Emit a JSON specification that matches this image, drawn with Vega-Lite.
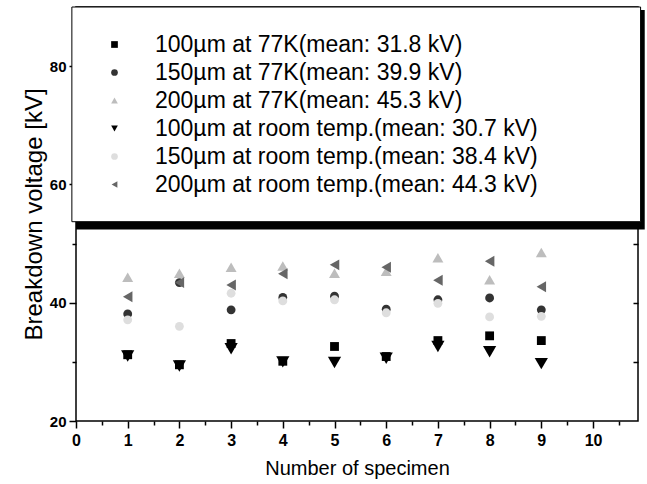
{
  "$schema": "https://vega.github.io/schema/vega-lite/v6.json",
  "width": 562,
  "height": 414,
  "autosize": {"type": "none"},
  "padding": {"left": 76, "top": 7, "right": 9, "bottom": 63},
  "background": "white",
  "config": {
    "font": "Liberation Sans",
    "view": {"stroke": "black", "strokeWidth": 1.5},
    "axis": {"grid": false, "domain": false, "tickColor": "black", "tickWidth": 1.5, "labelColor": "black", "titleColor": "black", "labelFont": "Liberation Sans", "titleFont": "Liberation Sans", "titleFontWeight": "normal"},
    "legend": {"orient": "none", "legendX": 27, "legendY": 26, "title": null, "labelFontSize": 23, "labelFont": "Liberation Sans", "labelColor": "black", "labelOffset": 29, "rowPadding": 4, "padding": 0, "labelLimit": 700, "symbolSize": 45}
  },
  "data": {
    "values": [
      {"s": "100µm at 77K(mean: 31.8 kV)", "n": 1, "v": 31.2},
      {"s": "100µm at 77K(mean: 31.8 kV)", "n": 2, "v": 29.5},
      {"s": "100µm at 77K(mean: 31.8 kV)", "n": 3, "v": 33.1},
      {"s": "100µm at 77K(mean: 31.8 kV)", "n": 4, "v": 30.1},
      {"s": "100µm at 77K(mean: 31.8 kV)", "n": 5, "v": 32.6},
      {"s": "100µm at 77K(mean: 31.8 kV)", "n": 6, "v": 30.9},
      {"s": "100µm at 77K(mean: 31.8 kV)", "n": 7, "v": 33.6},
      {"s": "100µm at 77K(mean: 31.8 kV)", "n": 8, "v": 34.4},
      {"s": "100µm at 77K(mean: 31.8 kV)", "n": 9, "v": 33.6},
      {"s": "150µm at 77K(mean: 39.9 kV)", "n": 1, "v": 38.1},
      {"s": "150µm at 77K(mean: 39.9 kV)", "n": 2, "v": 43.4},
      {"s": "150µm at 77K(mean: 39.9 kV)", "n": 3, "v": 38.8},
      {"s": "150µm at 77K(mean: 39.9 kV)", "n": 4, "v": 40.9},
      {"s": "150µm at 77K(mean: 39.9 kV)", "n": 5, "v": 41.1},
      {"s": "150µm at 77K(mean: 39.9 kV)", "n": 6, "v": 38.9},
      {"s": "150µm at 77K(mean: 39.9 kV)", "n": 7, "v": 40.5},
      {"s": "150µm at 77K(mean: 39.9 kV)", "n": 8, "v": 40.8},
      {"s": "150µm at 77K(mean: 39.9 kV)", "n": 9, "v": 38.8},
      {"s": "200µm at 77K(mean: 45.3 kV)", "n": 1, "v": 44.3},
      {"s": "200µm at 77K(mean: 45.3 kV)", "n": 2, "v": 45.0},
      {"s": "200µm at 77K(mean: 45.3 kV)", "n": 3, "v": 46.0},
      {"s": "200µm at 77K(mean: 45.3 kV)", "n": 4, "v": 46.2},
      {"s": "200µm at 77K(mean: 45.3 kV)", "n": 5, "v": 45.0},
      {"s": "200µm at 77K(mean: 45.3 kV)", "n": 6, "v": 45.3},
      {"s": "200µm at 77K(mean: 45.3 kV)", "n": 7, "v": 47.6},
      {"s": "200µm at 77K(mean: 45.3 kV)", "n": 8, "v": 43.9},
      {"s": "200µm at 77K(mean: 45.3 kV)", "n": 9, "v": 48.5},
      {"s": "100µm at room temp.(mean: 30.7 kV)", "n": 1, "v": 31.0},
      {"s": "100µm at room temp.(mean: 30.7 kV)", "n": 2, "v": 29.3},
      {"s": "100µm at room temp.(mean: 30.7 kV)", "n": 3, "v": 32.2},
      {"s": "100µm at room temp.(mean: 30.7 kV)", "n": 4, "v": 30.0},
      {"s": "100µm at room temp.(mean: 30.7 kV)", "n": 5, "v": 29.9},
      {"s": "100µm at room temp.(mean: 30.7 kV)", "n": 6, "v": 30.6},
      {"s": "100µm at room temp.(mean: 30.7 kV)", "n": 7, "v": 32.6},
      {"s": "100µm at room temp.(mean: 30.7 kV)", "n": 8, "v": 31.7},
      {"s": "100µm at room temp.(mean: 30.7 kV)", "n": 9, "v": 29.7},
      {"s": "150µm at room temp.(mean: 38.4 kV)", "n": 1, "v": 37.1},
      {"s": "150µm at room temp.(mean: 38.4 kV)", "n": 2, "v": 36.0},
      {"s": "150µm at room temp.(mean: 38.4 kV)", "n": 3, "v": 41.6},
      {"s": "150µm at room temp.(mean: 38.4 kV)", "n": 4, "v": 40.3},
      {"s": "150µm at room temp.(mean: 38.4 kV)", "n": 5, "v": 40.5},
      {"s": "150µm at room temp.(mean: 38.4 kV)", "n": 6, "v": 38.3},
      {"s": "150µm at room temp.(mean: 38.4 kV)", "n": 7, "v": 39.9},
      {"s": "150µm at room temp.(mean: 38.4 kV)", "n": 8, "v": 37.6},
      {"s": "150µm at room temp.(mean: 38.4 kV)", "n": 9, "v": 37.7},
      {"s": "200µm at room temp.(mean: 44.3 kV)", "n": 1, "v": 41.0},
      {"s": "200µm at room temp.(mean: 44.3 kV)", "n": 2, "v": 43.4},
      {"s": "200µm at room temp.(mean: 44.3 kV)", "n": 3, "v": 43.0},
      {"s": "200µm at room temp.(mean: 44.3 kV)", "n": 4, "v": 44.9},
      {"s": "200µm at room temp.(mean: 44.3 kV)", "n": 5, "v": 46.4},
      {"s": "200µm at room temp.(mean: 44.3 kV)", "n": 6, "v": 46.0},
      {"s": "200µm at room temp.(mean: 44.3 kV)", "n": 7, "v": 43.8},
      {"s": "200µm at room temp.(mean: 44.3 kV)", "n": 8, "v": 47.0},
      {"s": "200µm at room temp.(mean: 44.3 kV)", "n": 9, "v": 42.7}
    ]
  },
  "resolve": {"axis": {"x": "independent", "y": "independent"}},
  "layer": [
    {
      "transform": [{"filter": {"field": "s", "oneOf": ["100µm at 77K(mean: 31.8 kV)", "150µm at 77K(mean: 39.9 kV)", "150µm at room temp.(mean: 38.4 kV)"]}}],
      "mark": {"type": "point", "filled": true, "opacity": 1, "size": 78},
      "encoding": {
        "x": {"field": "n", "type": "quantitative", "scale": {"domain": [0, 10.87], "nice": false, "zero": false},
              "axis": {"orient": "bottom", "values": [0,1,2,3,4,5,6,7,8,9,10], "title": "Number of specimen", "tickSize": 7, "labelFontSize": 16, "labelFontWeight": "bold", "labelPadding": 4, "labelFlush": false, "titleFontSize": 20, "titlePadding": 10}},
        "y": {"field": "v", "type": "quantitative", "scale": {"domain": [20, 90], "nice": false, "zero": false},
              "axis": {"orient": "left", "values": [20, 40, 60, 80], "title": "Breakdown voltage [kV]", "tickSize": 7, "labelFontSize": 15, "labelFontWeight": "bold", "labelPadding": 3, "titleFontSize": 24, "titlePadding": 3}},
        "color": {"field": "s", "type": "nominal",
                  "scale": {"domain": ["100µm at 77K(mean: 31.8 kV)", "150µm at 77K(mean: 39.9 kV)", "200µm at 77K(mean: 45.3 kV)", "100µm at room temp.(mean: 30.7 kV)", "150µm at room temp.(mean: 38.4 kV)", "200µm at room temp.(mean: 44.3 kV)"],
                            "range": ["#000000", "#333333", "#bdbdbd", "#000000", "#dedede", "#666666"]},
                  "legend": {"encode": {"symbols": {"update": {"size": {"value": 45}}}}}},
        "shape": {"field": "s", "type": "nominal",
                  "scale": {"domain": ["100µm at 77K(mean: 31.8 kV)", "150µm at 77K(mean: 39.9 kV)", "200µm at 77K(mean: 45.3 kV)", "100µm at room temp.(mean: 30.7 kV)", "150µm at room temp.(mean: 38.4 kV)", "200µm at room temp.(mean: 44.3 kV)"],
                            "range": ["square", "circle", "triangle-up", "triangle-down", "circle", "triangle-left"]},
                  "legend": {"encode": {"symbols": {"update": {"size": {"value": 45}}}}}}
      }
    },
    {
      "transform": [{"filter": {"field": "s", "oneOf": ["200µm at 77K(mean: 45.3 kV)", "200µm at room temp.(mean: 44.3 kV)"]}}],
      "mark": {"type": "point", "filled": true, "opacity": 1, "size": 120},
      "encoding": {
        "x": {"field": "n", "type": "quantitative", "axis": null},
        "y": {"field": "v", "type": "quantitative", "axis": null},
        "color": {"field": "s", "type": "nominal", "legend": {"encode": {"symbols": {"update": {"size": {"value": 45}}}}}},
        "shape": {"field": "s", "type": "nominal", "legend": {"encode": {"symbols": {"update": {"size": {"value": 45}}}}}}
      }
    },
    {
      "transform": [{"filter": {"field": "s", "equal": "100µm at room temp.(mean: 30.7 kV)"}}],
      "mark": {"type": "point", "filled": true, "opacity": 1, "size": 175},
      "encoding": {
        "x": {"field": "n", "type": "quantitative", "axis": null},
        "y": {"field": "v", "type": "quantitative", "axis": null},
        "color": {"field": "s", "type": "nominal", "legend": {"encode": {"symbols": {"update": {"size": {"value": 45}}}}}},
        "shape": {"field": "s", "type": "nominal", "legend": {"encode": {"symbols": {"update": {"size": {"value": 45}}}}}}
      }
    },
    {
      "mark": {"type": "point", "opacity": 0},
      "encoding": {
        "x": {"field": "n", "type": "quantitative", "axis": {"orient": "bottom", "values": [0.5,1.5,2.5,3.5,4.5,5.5,6.5,7.5,8.5,9.5,10.5], "tickSize": 4, "labels": false, "title": null}},
        "y": {"field": "v", "type": "quantitative", "axis": {"orient": "left", "values": [30, 50, 70], "tickSize": 4, "labels": false, "title": null}}
      }
    },
    {
      "mark": {"type": "point", "opacity": 0},
      "encoding": {
        "x": {"field": "n", "type": "quantitative", "axis": null},
        "y": {"field": "v", "type": "quantitative", "axis": {"orient": "right", "values": [30, 40, 50], "tickSize": -5, "labels": false, "title": null}}
      }
    },
    {
      "data": {"values": [{}]},
      "mark": {"type": "rect", "fill": "black"},
      "encoding": {
        "x": {"datum": 0.0, "type": "quantitative", "axis": null},
        "x2": {"datum": 11.0},
        "y": {"datum": 52.4, "type": "quantitative", "axis": null},
        "y2": {"datum": 89.5}
      }
    },
    {
      "data": {"values": [{}]},
      "mark": {"type": "rect", "fill": "white", "stroke": "black", "strokeWidth": 1},
      "encoding": {
        "x": {"datum": -0.08, "type": "quantitative", "axis": null},
        "x2": {"datum": 10.92},
        "y": {"datum": 53.7, "type": "quantitative", "axis": null},
        "y2": {"datum": 90}
      }
    }
  ]
}
